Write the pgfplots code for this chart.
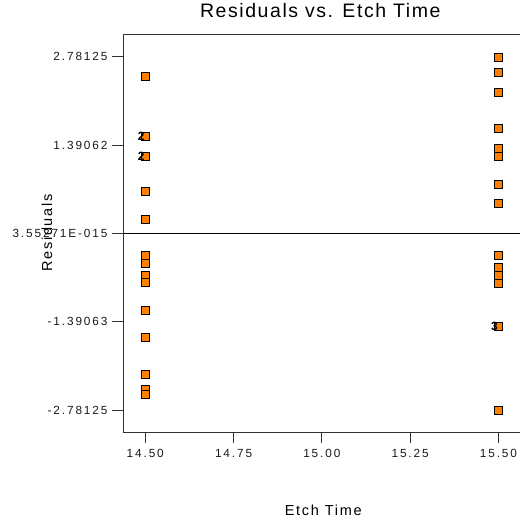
\documentclass[border=0pt]{standalone}
\usepackage{pgfplots}
\pgfplotsset{compat=1.18}
\usepackage{fontspec}
\setmainfont{Liberation Sans}
\newfontfamily\tickfont{Liberation Sans}[LetterSpace=16]
\newfontfamily\titlefont{Liberation Sans}[LetterSpace=8]
\newfontfamily\labfont{Liberation Sans}[LetterSpace=12]
\definecolor{markorange}{HTML}{FF8000}
\begin{document}
\begin{tikzpicture}
\begin{axis}[
  scale only axis,
  width=427pt, height=398pt,
  xmin=14.437, xmax=15.646,
  ymin=-3.128, ymax=3.138,
  axis lines*=left,
  axis line style={line width=0.9pt, black!80, -},
  tick style={line width=0.9pt, black!80},
  tick align=outside,
  major tick length=11pt,
  xtick={14.5,14.75,15,15.25,15.5},
  xticklabels={14.50,14.75,15.00,15.25,15.50},
  ytick={-2.78125,-1.390625,0,1.390625,2.78125},
  yticklabels={-2.78125,-1.39063,3.55271E-015,1.39062,2.78125},
  ticklabel style={font=\tickfont\fontsize{11.8}{13}\selectfont, text=black!90},
  xticklabel style={yshift=-3pt},
  yticklabel style={xshift=-1pt},
  title={\titlefont\fontsize{19.5}{22}\selectfont Residuals vs. Etch Time},
  title style={at={(axis description cs:0.462,1.045)}, anchor=center},
  xlabel={\labfont\fontsize{14.5}{16}\selectfont Etch Time},
  xlabel style={at={(axis description cs:0.469,-0.196)}, anchor=center},
  ylabel={\labfont\fontsize{14.5}{16}\selectfont Residuals},
  ylabel style={at={(axis description cs:-0.178,0.5)}, anchor=center, rotate=0},
  clip=false,
]
\coordinate (bl) at (rel axis cs:0,0);
\coordinate (tr) at (rel axis cs:1,1);
\draw[line width=0.9pt, black!80] (rel axis cs:0,1) -- (rel axis cs:1,1);
\draw[line width=0.9pt, black] (axis cs:14.437,0) -- (axis cs:15.646,0);
\addplot[only marks, mark=square*, mark size=4pt,
  mark options={fill=markorange, draw=black, line width=0.6pt}]
  coordinates {
  (14.5,2.4726) (14.5,1.528) (14.5,1.2127) (14.5,0.6615) (14.5,0.2158)
  (14.5,-0.340) (14.5,-0.4725) (14.5,-0.666) (14.5,-0.776) (14.5,-1.217)
  (14.5,-1.643) (14.5,-2.225) (14.5,-2.462) (14.5,-2.540)
  (15.5,2.772) (15.5,2.536) (15.5,2.221) (15.5,1.654) (15.5,1.339)
  (15.5,1.213) (15.5,0.778) (15.5,0.4725) (15.5,-0.340) (15.5,-0.5355)
  (15.5,-0.655) (15.5,-0.781) (15.5,-1.458) (15.5,-2.781)
  };
\addplot[only marks, mark=none, nodes near coords, point meta=explicit symbolic,
  nodes near coords style={anchor=east, inner sep=0pt, xshift=-0.5pt, font=\bfseries\fontsize{12}{14}\selectfont}]
  coordinates {(14.5,1.528)[2] (14.5,1.2127)[2] (15.5,-1.458)[3]};
\end{axis}
\pgfresetboundingbox
\path ([xshift=-123pt,yshift=-91pt]bl) rectangle ([yshift=34pt,xshift=-30pt]tr);
\end{tikzpicture}
\end{document}
